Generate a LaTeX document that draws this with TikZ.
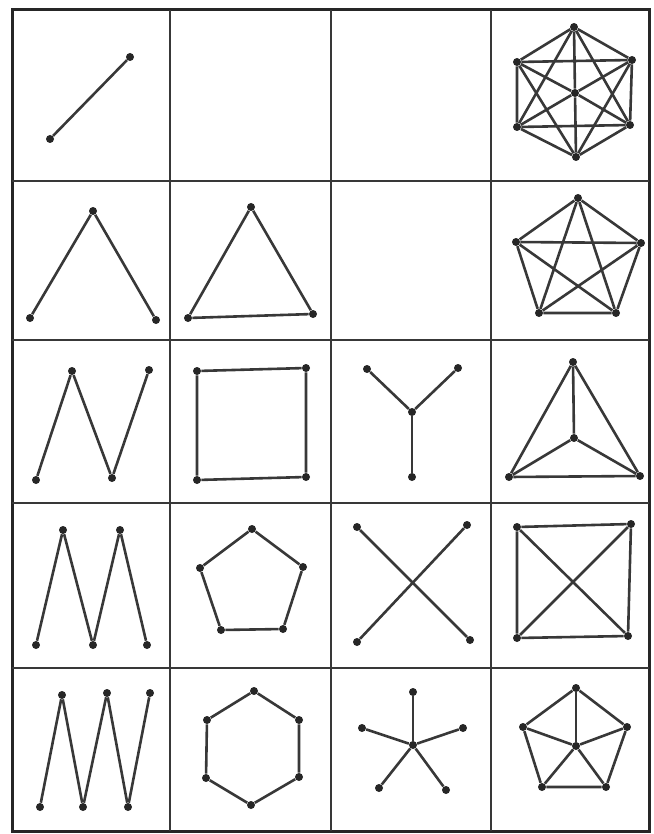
\documentclass[tikz,border=0pt]{standalone}
\usepackage{tikz}
\tikzset{
  vtx/.style={circle,fill=black!85,inner sep=0pt,minimum size=4pt},
  edge/.style={draw=black!78,line width=1.3pt},
  gridline/.style={draw=black!78,line width=1pt},
  frame/.style={draw=black!85,line width=1.5pt}
}
\begin{document}
\begin{tikzpicture}[x=0.5pt,y=-0.5pt]
\useasboundingbox (0,0) rectangle (653,834);
\draw[frame] (12,10) rectangle (649,831);
\draw[gridline] (170,10) -- (170,831);
\draw[gridline] (331,10) -- (331,831);
\draw[gridline] (491,10) -- (491,831);
\draw[gridline] (12,181) -- (649,181);
\draw[gridline] (12,340) -- (649,340);
\draw[gridline] (12,503) -- (649,503);
\draw[gridline] (12,668) -- (649,668);
% one edge
\node[vtx] (ea) at (50,139) {};
\node[vtx] (eb) at (130,57) {};
\draw[edge] (ea) -- (eb);
% six vertices, all joined
\node[vtx] (ha) at (574,27) {};
\node[vtx] (hb) at (632,60) {};
\node[vtx] (hc) at (630,125) {};
\node[vtx] (hd) at (576,157) {};
\node[vtx] (he) at (517,127) {};
\node[vtx] (hf) at (517,62) {};
\node[vtx] (hm) at (575,93) {};
\draw[edge] (ha) -- (hb) -- (hc) -- (hd) -- (he) -- (hf) -- (ha);
\draw[edge] (ha) -- (hm) -- (hd);
\draw[edge] (hb) -- (hm) -- (he);
\draw[edge] (hc) -- (hm) -- (hf);
\draw[edge] (ha) -- (hc) -- (he) -- (ha);
\draw[edge] (hb) -- (hd) -- (hf) -- (hb);
% row of three
\node[vtx] (pa) at (30,318) {};
\node[vtx] (pb) at (93,211) {};
\node[vtx] (pc) at (156,320) {};
\draw[edge] (pa) -- (pb) -- (pc);
\node[vtx] (ta) at (251,207) {};
\node[vtx] (tb) at (313,314) {};
\node[vtx] (tc) at (188,318) {};
\draw[edge] (ta) -- (tb) -- (tc) -- (ta);
\node[vtx] (ka) at (578,198) {};
\node[vtx] (kb) at (641,243) {};
\node[vtx] (kc) at (616,313) {};
\node[vtx] (kd) at (539,313) {};
\node[vtx] (ke) at (516,242) {};
\draw[edge] (ka) -- (kb) -- (kc) -- (kd) -- (ke) -- (ka);
\draw[edge] (ka) -- (kc) -- (ke) -- (kb) -- (kd) -- (ka);
% row of four
\node[vtx] (qa) at (36,480) {};
\node[vtx] (qb) at (72,371) {};
\node[vtx] (qc) at (112,478) {};
\node[vtx] (qd) at (149,370) {};
\draw[edge] (qa) -- (qb) -- (qc) -- (qd);
\node[vtx] (sa) at (197,371) {};
\node[vtx] (sb) at (306,368) {};
\node[vtx] (sc) at (306,477) {};
\node[vtx] (sd) at (197,480) {};
\draw[edge] (sa) -- (sb) -- (sc) -- (sd) -- (sa);
\node[vtx] (ya) at (367,369) {};
\node[vtx] (yb) at (458,368) {};
\node[vtx] (ym) at (412,412) {};
\node[vtx] (yc) at (412,477) {};
\draw[edge] (ya) -- (ym) -- (yb);
\draw[edge] (ym) -- (yc);
\node[vtx] (fa) at (573,362) {};
\node[vtx] (fb) at (640,476) {};
\node[vtx] (fc) at (509,477) {};
\node[vtx] (fm) at (574,438) {};
\draw[edge] (fa) -- (fb) -- (fc) -- (fa);
\draw[edge] (fa) -- (fm) -- (fb);
\draw[edge] (fm) -- (fc);
% row of five
\node[vtx] (wa) at (36,645) {};
\node[vtx] (wb) at (63,530) {};
\node[vtx] (wc) at (93,645) {};
\node[vtx] (wd) at (120,530) {};
\node[vtx] (we) at (147,645) {};
\draw[edge] (wa) -- (wb) -- (wc) -- (wd) -- (we);
\node[vtx] (ga) at (252,529) {};
\node[vtx] (gb) at (303,567) {};
\node[vtx] (gc) at (283,629) {};
\node[vtx] (gd) at (221,630) {};
\node[vtx] (ge) at (200,568) {};
\draw[edge] (ga) -- (gb) -- (gc) -- (gd) -- (ge) -- (ga);
\node[vtx] (xa) at (357,527) {};
\node[vtx] (xb) at (467,525) {};
\node[vtx] (xc) at (470,640) {};
\node[vtx] (xd) at (357,642) {};
\draw[edge] (xa) -- (xc);
\draw[edge] (xb) -- (xd);
\node[vtx] (da) at (517,527) {};
\node[vtx] (db) at (631,524) {};
\node[vtx] (dc) at (628,636) {};
\node[vtx] (dd) at (517,638) {};
\draw[edge] (da) -- (db) -- (dc) -- (dd) -- (da);
\draw[edge] (da) -- (dc);
\draw[edge] (db) -- (dd);
% row of six
\node[vtx] (za) at (40,807) {};
\node[vtx] (zb) at (62,695) {};
\node[vtx] (zc) at (83,807) {};
\node[vtx] (zd) at (107,693) {};
\node[vtx] (ze) at (128,807) {};
\node[vtx] (zf) at (150,693) {};
\draw[edge] (za) -- (zb) -- (zc) -- (zd) -- (ze) -- (zf);
\node[vtx] (ca) at (254,691) {};
\node[vtx] (cb) at (299,720) {};
\node[vtx] (cc) at (299,777) {};
\node[vtx] (cd) at (251,805) {};
\node[vtx] (ce) at (206,778) {};
\node[vtx] (cf) at (207,720) {};
\draw[edge] (ca) -- (cb) -- (cc) -- (cd) -- (ce) -- (cf) -- (ca);
\node[vtx] (sm) at (413,745) {};
\node[vtx] (s1) at (413,692) {};
\node[vtx] (s2) at (463,728) {};
\node[vtx] (s3) at (446,790) {};
\node[vtx] (s4) at (379,788) {};
\node[vtx] (s5) at (362,728) {};
\draw[edge] (sm) -- (s1);
\draw[edge] (sm) -- (s2);
\draw[edge] (sm) -- (s3);
\draw[edge] (sm) -- (s4);
\draw[edge] (sm) -- (s5);
\node[vtx] (vm) at (576,746) {};
\node[vtx] (v1) at (576,688) {};
\node[vtx] (v2) at (627,727) {};
\node[vtx] (v3) at (606,787) {};
\node[vtx] (v4) at (542,787) {};
\node[vtx] (v5) at (523,727) {};
\draw[edge] (v1) -- (v2) -- (v3) -- (v4) -- (v5) -- (v1);
\draw[edge] (vm) -- (v1);
\draw[edge] (vm) -- (v2);
\draw[edge] (vm) -- (v3);
\draw[edge] (vm) -- (v4);
\draw[edge] (vm) -- (v5);
\end{tikzpicture}
\end{document}
